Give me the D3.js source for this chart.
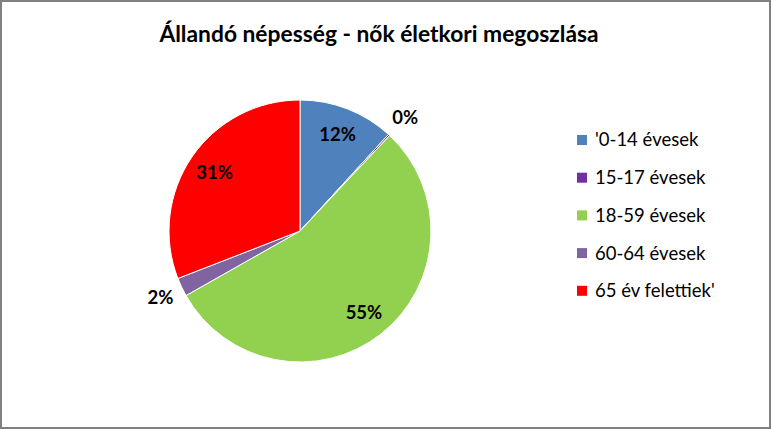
<!DOCTYPE html>
<html><head><meta charset="utf-8">
<script src="https://cdn.jsdelivr.net/npm/d3@7"></script>
<style>body{margin:0;background:#fff}svg{display:block}</style>
</head><body><svg id="c" width="772" height="430"></svg>
<script>
const title = "Állandó népesség - nők életkori megoszlása";
const categories = ["'0-14 évesek", "15-17 évesek", "18-59 évesek", "60-64 évesek", "65 év felettiek'"];
const values = [11.8, 0.2, 54.8, 2.3, 30.9];
const colors = ["#4F81BD", "#7030A0", "#92D050", "#8064A2", "#FF0000"];
const outsideLabel = [false, true, false, true, false];

const svg = d3.select("#c");
const W = 772, H = 430;
const font = "Lato, 'Open Sans', sans-serif";

svg.append("rect").attr("x", 1).attr("y", 1).attr("width", W - 3).attr("height", H - 3)
  .attr("fill", "#fff").attr("stroke", "#808080").attr("stroke-width", 2);
svg.append("line").attr("x1", W - 2).attr("x2", W - 2).attr("y1", 2).attr("y2", H - 1).attr("stroke", "#808080").attr("stroke-width", 2);
svg.append("line").attr("x1", 2).attr("x2", W - 1).attr("y1", H - 2).attr("y2", H - 2).attr("stroke", "#808080").attr("stroke-width", 2);

svg.append("text").attr("x", 379).attr("y", 42).attr("text-anchor", "middle")
  .attr("font-family", font).attr("font-weight", "bold").attr("font-size", 22.8)
  .attr("fill", "#000").text(title);

const cx = 300, cy = 231, R = 131;
const pie = d3.pie().sort(null).value(d => d)(values);
const arc = d3.arc().innerRadius(0).outerRadius(R);
const inArc = d3.arc().innerRadius(R * 0.79).outerRadius(R * 0.79);
const outArc = d3.arc().innerRadius(R * 1.18).outerRadius(R * 1.18);
const total = d3.sum(values);

const g = svg.append("g").attr("transform", `translate(${cx},${cy})`);
g.selectAll("path").data(pie).join("path")
  .attr("d", arc).attr("fill", (d, i) => colors[i])
  .attr("stroke", "#fff").attr("stroke-width", 1);

g.selectAll("text.lbl").data(pie).join("text").attr("class", "lbl")
  .attr("transform", (d, i) => `translate(${(outsideLabel[i] ? outArc : inArc).centroid(d)})`)
  .attr("text-anchor", "middle").attr("dy", "0.35em")
  .attr("font-family", font).attr("font-weight", "bold").attr("font-size", 18.5)
  .attr("fill", "#000")
  .text(d => Math.round(d.value / total * 100) + "%");

const leg = svg.append("g").attr("transform", "translate(577,140)");
const rows = leg.selectAll("g").data(categories).join("g")
  .attr("transform", (d, i) => `translate(0,${i * 37.7})`);
rows.append("rect").attr("x", 0).attr("y", -5).attr("width", 10).attr("height", 10)
  .attr("fill", (d, i) => colors[i]);
rows.append("text").attr("x", 18).attr("y", 0).attr("dy", "0.35em")
  .attr("font-family", font).attr("font-size", 18.5).attr("fill", "#000").text(d => d);
</script></body></html>
